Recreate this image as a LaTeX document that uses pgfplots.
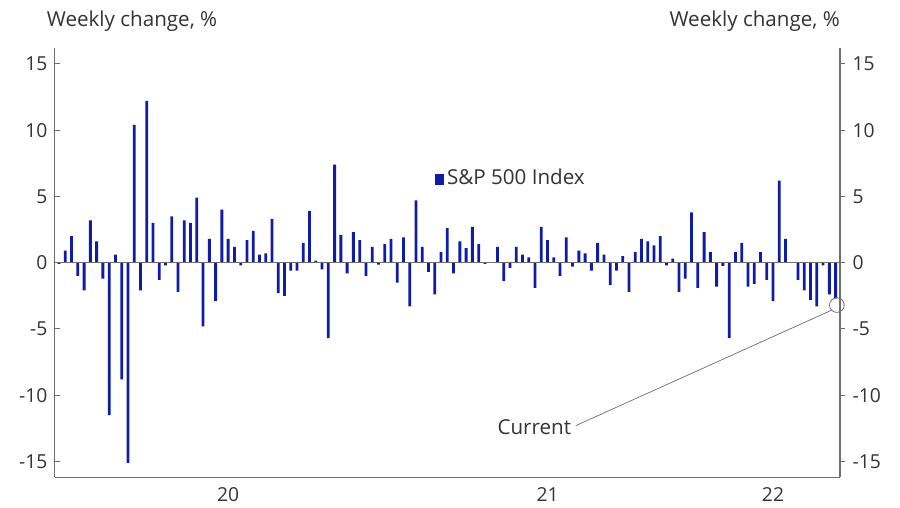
\documentclass[border=0pt]{standalone}
\usepackage{pgfplots}
\pgfplotsset{compat=1.18}
\usepackage{fontspec}
\setmainfont{Open Sans}
\definecolor{bar}{RGB}{14,28,168}
\definecolor{ax}{RGB}{110,110,110}
\pgfplotstableread{
x y
0 -0.1
1 0.9
2 2.0
3 -1.0
4 -2.1
5 3.2
6 1.6
7 -1.2
8 -11.5
9 0.6
10 -8.8
11 -15.1
12 10.4
13 -2.1
14 12.2
15 3.0
16 -1.3
17 -0.2
18 3.5
19 -2.2
20 3.2
21 3.0
22 4.9
23 -4.8
24 1.8
25 -2.9
26 4.0
27 1.8
28 1.2
29 -0.2
30 1.7
31 2.4
32 0.6
33 0.7
34 3.3
35 -2.3
36 -2.5
37 -0.6
38 -0.6
39 1.5
40 3.9
41 0.15
42 -0.5
43 -5.7
44 7.4
45 2.1
46 -0.8
47 2.3
48 1.7
49 -1.0
50 1.2
51 -0.15
52 1.4
53 1.8
54 -1.5
55 1.9
56 -3.3
57 4.7
58 1.2
59 -0.7
60 -2.4
61 0.8
62 2.6
63 -0.8
64 1.6
65 1.1
66 2.7
67 1.4
68 -0.1
69 0.0
70 1.2
71 -1.4
72 -0.4
73 1.2
74 0.6
75 0.4
76 -1.9
77 2.7
78 1.7
79 0.4
80 -1.0
81 1.9
82 -0.3
83 0.9
84 0.7
85 -0.6
86 1.5
87 0.6
88 -1.7
89 -0.6
90 0.5
91 -2.2
92 0.8
93 1.8
94 1.6
95 1.3
96 2.0
97 -0.2
98 0.3
99 -2.2
100 -1.2
101 3.8
102 -1.9
103 2.3
104 0.8
105 -1.8
106 -0.25
107 -5.7
108 0.8
109 1.5
110 -1.8
111 -1.6
112 0.8
113 -1.3
114 -2.9
115 6.2
116 1.8
117 0.05
118 -1.3
119 -2.1
120 -2.8
121 -3.3
122 -0.2
123 -2.4
124 -2.7
}\data
\begin{document}
\begin{tikzpicture}[font=\fontsize{15.5}{18}\selectfont]
\useasboundingbox (-41bp,-23bp) rectangle (634bp,358bp);
\pgfplotsset{every axis/.style={scale only axis, width=589bp, height=322bp,
  at={(0,0)}, anchor=south west,
  xmin=-0.7, xmax=124.7, ymin=-16.2, ymax=16.2,
  ytick={-15,-10,-5,0,5,10,15},
  /pgf/number format/assume math mode=true,
  tick label style={font=\fontsize{14.5}{17}\selectfont, text=black!80},
  axis line style={ax, line width=0.8pt},
  major tick style={ax, line width=0.8pt}, major tick length=4bp}}
\begin{axis}[clip=false,
  axis x line*=bottom, axis y line*=left,
  ybar, bar width=2.1bp,
  xtick={27,78,114}, xticklabels={20,21,22},
  xtick style={draw=none},
  extra x ticks={0.8,52.4,104.3}, extra x tick labels={},
  extra x tick style={tick style={ax, line width=0.8pt}, major tick length=8bp, tick align=outside},
  ytick align=inside,
  yticklabel style={xshift=-2bp},
]
\addplot[fill=bar, draw=none, bar shift=0pt] table[x=x,y=y]{\data};
\draw[ax, line width=0.5pt] (axis cs:-0.7,0) -- (axis cs:124.7,0);
\draw[bar, fill=bar] (axis cs:60,5.95) rectangle ++(6bp,7bp);
\node[anchor=west, text=black!80] at (axis cs:61.2,6.45) {S\&P 500 Index};
\draw[ax, line width=0.6pt] (axis cs:124.2,-3.2) circle (5.5bp);
\draw[black!60, line width=0.5pt] (axis cs:123.3,-3.6) -- (axis cs:82.5,-12.3);
\node[anchor=east, text=black!80] at (axis cs:82.5,-12.4) {Current};
\node[anchor=south west, text=black!80, inner sep=0pt] at ([yshift=12bp,xshift=-6bp]rel axis cs:0,1) {Weekly change, \%};
\node[anchor=south east, text=black!80, inner sep=0pt] at ([yshift=12bp,xshift=0bp]rel axis cs:1,1) {Weekly change, \%};
\end{axis}
\begin{axis}[axis x line=none, axis y line*=right, ytick align=outside,
  yticklabel style={xshift=2bp}]
\end{axis}
\end{tikzpicture}
\end{document}
